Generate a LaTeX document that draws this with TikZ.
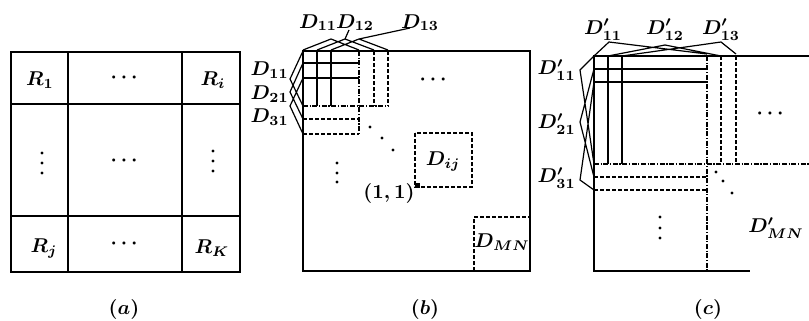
\documentclass[tikz,border=0pt]{standalone}
\usepackage{amsmath,amssymb}
\usetikzlibrary{positioning}
\tikzset{
  frame/.style = {line width=0.8pt},
  grid/.style  = {line width=0.8pt},
  blk/.style   = {line width=0.7pt, dash pattern=on 2pt off 1pt},
  blkdd/.style = {line width=0.7pt, dash pattern=on 2.5pt off 0.8pt on 0.6pt off 0.8pt},
  hat/.style   = {line width=0.6pt},
  lbl/.style   = {inner sep=0pt, font=\boldmath},
  dotc/.style  = {fill, circle, inner sep=0pt, minimum size=1.6pt}
}

\begin{document}
\begin{tikzpicture}[x=0.5pt, y=-0.5pt]
\useasboundingbox (0,0) rectangle (809,321);

% (a) regions
\draw[frame] (11,52) rectangle (240,272);
\draw[frame] (68,52) -- (68,272) (182,52) -- (182,272)
             (11,104) -- (240,104) (11,216) -- (240,216);
\node[lbl] (r1)   at (40,80)   {$R_1$};
\node[lbl] (rtop) at (126,78)  {$\cdots$};
\node[lbl] (ri)   at (213,80)  {$R_i$};
\node[lbl] (rmid) at (126,161) {$\cdots$};
\node[lbl] (rj)   at (44,248)  {$R_j$};
\node[lbl] (rbot) at (126,244) {$\cdots$};
\node[lbl] (rk)   at (212,248) {$R_K$};
\foreach \py in {153,163,173} {
  \node[dotc] at (42,\py) {};
  \node[dotc] at (213,\py-2) {};
}
\node[lbl] (capa) at (124,309) {$(a)$};

% (b) overlapping blocks
\draw[frame] (303,51) rectangle (530,271);
\draw[grid] (317,51) -- (317,106) (331,51) -- (331,106)
            (303,63) -- (359,63) (303,78) -- (359,78);
\draw[blkdd] (359,51) -- (359,134) (303,106) -- (388,106);
\draw[blk] (374,51) -- (374,106) (388,51) -- (388,106)
           (303,119) -- (359,119) (303,134) -- (359,134);
\draw[hat] (303,50) -- (331,39) -- (359,50)
           (317,50) -- (345,39) -- (374,50)
           (331,50) -- (359,39) -- (388,50)
           (345,39) -- (349,30)
           (359,39) -- (410,28);
\draw[hat] (303,51) -- (290,79) -- (303,106)
           (303,63) -- (290,92) -- (303,119)
           (303,78) -- (290,106) -- (303,134);
\node[lbl, anchor=base] (b11) at (318,28) {$D_{11}$};
\node[lbl, anchor=base] (b12) at (355,28) {$D_{12}$};
\node[lbl, anchor=base] (b13) at (420,28) {$D_{13}$};
\node[lbl, anchor=east] (b11l) at (289,70)  {$D_{11}$};
\node[lbl, anchor=east] (b21l) at (289,94)  {$D_{21}$};
\node[lbl, anchor=east] (b31l) at (289,117) {$D_{31}$};
\node[lbl] (bdots) at (435,80)  {$\cdots$};
\foreach \py in {163,173,182}
  \node[dotc] at (337,\py) {};
\foreach \px/\py in {370/127, 382/138, 393/150}
  \node[dotc] at (\px,\py) {};
\draw[blk] (415,133) rectangle (472,187);
\fill (415,183) rectangle (420,188);
\node[lbl] (dij) at (443,161) {$D_{ij}$};
\node[lbl] (one) at (389,193) {$(1,1)$};
\draw[blk] (474,271) -- (474,217) -- (530,217);
\node[lbl] (dmn) at (502,242) {$D_{MN}$};
\node[lbl] (capb) at (425,309) {$(b)$};

% (c) larger blocks
\draw[frame] (809,56) -- (594,56) -- (594,271) -- (750,271);
\draw[grid] (608,56) -- (608,164) (622,56) -- (622,164)
            (594,69) -- (707,69) (594,82) -- (707,82);
\draw[blkdd] (707,56) -- (707,271) (594,164) -- (809,164);
\draw[blk] (721,56) -- (721,164) (736,56) -- (736,164)
           (594,177) -- (707,177) (594,190) -- (707,190);
\draw[hat] (594,56) -- (609,42) -- (707,54)
           (608,56) -- (665,45) -- (721,56)
           (622,56) -- (721,42) -- (736,54);
\draw[hat] (594,56) -- (580,70) -- (594,164)
           (594,69) -- (580,122) -- (594,177)
           (594,82) -- (580,180) -- (594,190);
\node[lbl, anchor=base] (c11) at (603,34) {$D'_{11}$};
\node[lbl, anchor=base] (c12) at (665,34) {$D'_{12}$};
\node[lbl, anchor=base] (c13) at (721,34) {$D'_{13}$};
\node[lbl, anchor=east] (c11l) at (576,70)  {$D'_{11}$};
\node[lbl, anchor=east] (c21l) at (576,124) {$D'_{21}$};
\node[lbl, anchor=east] (c31l) at (576,178) {$D'_{31}$};
\node[lbl] (cdots) at (772,114) {$\cdots$};
\foreach \py in {217,228,238}
  \node[dotc] at (660,\py) {};
\foreach \px/\py in {716/172, 723/181, 732/193}
  \node[dotc] at (\px,\py) {};
\node[lbl] (cmn) at (776,228) {$D'_{MN}$};
\node[lbl] (capc) at (708,309) {$(c)$};
\end{tikzpicture}
\end{document}
